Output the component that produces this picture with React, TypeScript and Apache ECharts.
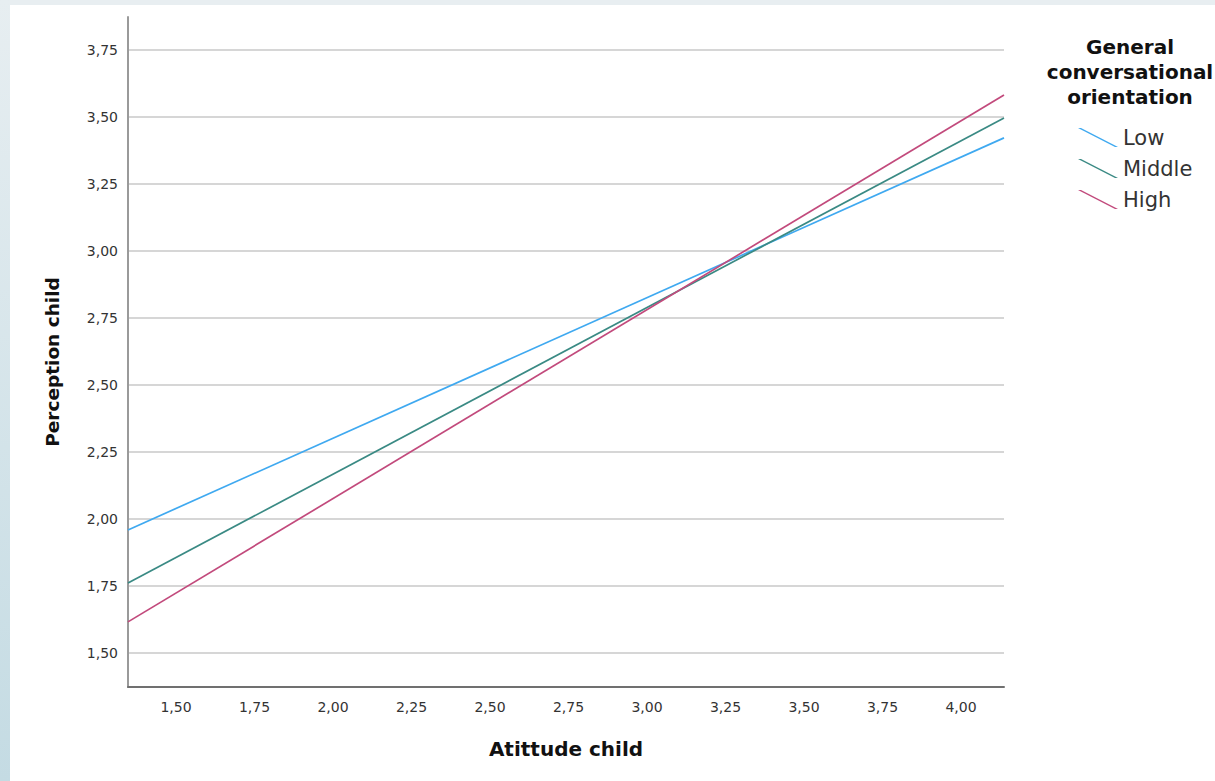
import React, { useEffect, useRef } from "react";
import * as echarts from "echarts";

const seriesNames = ["Low", "Middle", "High"];
const seriesColors = ["#3fa9f0", "#3a8a84", "#c24a7c"];
const xEnds = [1.347, 4.137];
const lowValues = [1.959, 3.422];
const middleValues = [1.761, 3.496];
const highValues = [1.616, 3.582];
const xTicks = [1.5, 1.75, 2.0, 2.25, 2.5, 2.75, 3.0, 3.25, 3.5, 3.75, 4.0];
const yTicks = [1.5, 1.75, 2.0, 2.25, 2.5, 2.75, 3.0, 3.25, 3.5, 3.75];
const xTitle = "Atittude child";
const yTitle = "Perception child";
const legendTitle = "General\nconversational\norientation";

const fmt = (v: number) => v.toFixed(2).replace(".", ",");

export default function App() {
  const ref = useRef<HTMLDivElement>(null);
  useEffect(() => {
    document.body.style.margin = "0";
    const chart = echarts.init(ref.current!, null, { renderer: "svg" });
    const valueSets = [lowValues, middleValues, highValues];
    const font = "'DejaVu Sans', Verdana, sans-serif";
    chart.setOption({
      animation: false,
      backgroundColor: "#ffffff",
      textStyle: { fontFamily: font },
      graphic: [
        {
          type: "rect",
          left: 0,
          top: 0,
          shape: { width: 1215, height: 5 },
          style: { fill: "#e8eef1" },
          silent: true,
        },
        {
          type: "rect",
          left: 0,
          top: 0,
          shape: { width: 10, height: 781 },
          style: {
            fill: new echarts.graphic.LinearGradient(0, 0, 0, 1, [
              { offset: 0, color: "#e7eef1" },
              { offset: 1, color: "#c4dbe3" },
            ]),
          },
          silent: true,
        },
        {
          type: "text",
          x: 1130,
          y: 34,
          style: {
            text: legendTitle,
            textAlign: "center",
            textVerticalAlign: "top",
            font: `bold 20px ${font}`,
            lineHeight: 25,
            fill: "#111",
          },
        },
      ],
      grid: { left: 128, right: 211, top: 17, bottom: 94, containLabel: false },
      legend: {
        orient: "vertical",
        left: 1078,
        top: 127,
        padding: 0,
        itemWidth: 40,
        itemHeight: 19,
        itemGap: 10,
        data: seriesNames.map((n) => ({
          name: n,
          icon: "path://M0,0 L3,0 L40,19 L37,19 Z",
        })),
        textStyle: { fontSize: 21, color: "#333", fontFamily: font },
      },
      xAxis: {
        type: "value",
        min: xEnds[0],
        max: xEnds[1],
        name: xTitle,
        nameLocation: "middle",
        nameGap: 52,
        nameTextStyle: { fontSize: 20, fontWeight: "bold", color: "#111" },
        axisLine: { show: true, lineStyle: { color: "#707070", width: 2 } },
        axisTick: { show: false, customValues: xTicks },
        axisLabel: {
          customValues: xTicks,
          formatter: fmt,
          fontSize: 14,
          color: "#333",
          margin: 13,
        },
        splitLine: { show: false },
      },
      yAxis: {
        type: "value",
        min: 1.373,
        max: 3.873,
        name: yTitle,
        nameLocation: "middle",
        nameGap: 66,
        nameTextStyle: {
          fontSize: 18.5,
          fontWeight: "bold",
          color: "#111",
          padding: [0, 20, 0, 0],
        },
        axisLine: { show: true, lineStyle: { color: "#9a9a9a", width: 2 } },
        axisTick: { show: false, customValues: yTicks },
        axisLabel: {
          customValues: yTicks,
          formatter: fmt,
          fontSize: 14,
          color: "#333",
          margin: 10,
        },
        splitLine: { show: true, lineStyle: { color: "#c8c8c8", width: 1.5 } },
      },
      series: seriesNames.map((n, i) => ({
        name: n,
        type: "line",
        symbol: "none",
        showSymbol: false,
        data: xEnds.map((x, j) => [x, valueSets[i][j]]),
        lineStyle: { color: seriesColors[i], width: 1.7 },
        itemStyle: { color: seriesColors[i] },
      })),
    });
    return () => chart.dispose();
  }, []);
  return (
    <div
      ref={ref}
      style={{ position: "fixed", left: 0, top: 0, width: 1215, height: 781 }}
    />
  );
}
